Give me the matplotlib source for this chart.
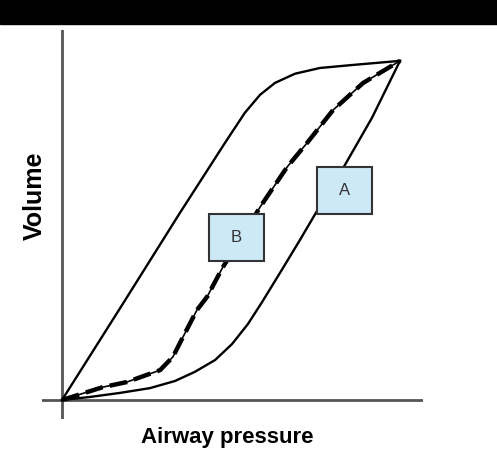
import matplotlib.pyplot as plt
import numpy as np
from matplotlib.patches import Rectangle

# pressure / volume loop (peak = 100, 100)
upper_p = np.array([0, 17.2, 34.9, 48.2, 54.1, 58.6, 63.0, 68.9, 76.3, 86.1, 100])
upper_v = np.array([0, 27.1, 55.2, 75.8, 84.7, 90.0, 93.5, 96.2, 97.9, 98.8, 100])

lower_p = np.array([0, 8.3, 17.2, 26.0, 33.4, 39.3, 45.3, 50.3, 55.0, 59.2, 64.5, 70.4, 76.3, 83.7, 91.7, 100])
lower_v = np.array([0, 0.9, 2.1, 3.5, 5.6, 8.3, 11.8, 16.5, 22.4, 28.9, 37.5, 47.2, 57.2, 69.3, 83.2, 100])

mid_p = np.array([0, 12.1, 19.2, 29.0, 32.8, 35.8, 39.9, 42.9, 47.6, 52.7, 58.6, 66.6, 72.5, 80.2, 89.1, 100])
mid_v = np.array([0, 3.8, 5.3, 8.8, 12.7, 18.6, 26.5, 30.4, 39.2, 47.2, 56.9, 68.7, 75.8, 85.5, 93.5, 100])

box_labels = ['A', 'B']
box_x = [83.6, 51.6]
box_y = [61.7, 47.9]

fig = plt.figure(figsize=(4.97, 4.75), dpi=100)
fig.patches.append(Rectangle((0, 1 - 24 / 475), 1, 24 / 475, transform=fig.transFigure,
                             color='black', zorder=0))

ax = fig.add_axes([42 / 497, 56 / 475, 381 / 497, 389 / 475])
ax.set_xlim(-5.92, 106.8)
ax.set_ylim(-5.6, 109.1)
ax.axis('off')

ax.axvline(0, color='#555555', lw=2)
ax.axhline(0, color='#555555', lw=2)

ax.plot(upper_p, upper_v, color='black', lw=1.7, solid_joinstyle='round')
ax.plot(lower_p, lower_v, color='black', lw=1.7, solid_joinstyle='round')
ax.plot(mid_p, mid_v, color='black', lw=1.2)
ax.plot(mid_p, mid_v, color='black', lw=3.2, linestyle=(0, (4, 1.6)))

bw, bh = 16.3, 14.0
for lab, cx, cy in zip(box_labels, box_x, box_y):
    ax.add_patch(Rectangle((cx - bw / 2, cy - bh / 2), bw, bh, facecolor='#cde8f7',
                           edgecolor='#333333', lw=1.5, zorder=5))
    ax.text(cx, cy, lab, ha='center', va='center', fontsize=12, color='#333333',
            family='Liberation Sans', zorder=6)

fig.text(35 / 497, 1 - 196 / 475, 'Volume', rotation=90, ha='center', va='center',
         fontsize=18, fontweight='bold', family='Liberation Sans')
fig.text(227 / 497, 1 - 437 / 475, 'Airway pressure', ha='center', va='center',
         fontsize=16, fontweight='bold', family='Liberation Sans')

fig.savefig('out.png', dpi=100)
